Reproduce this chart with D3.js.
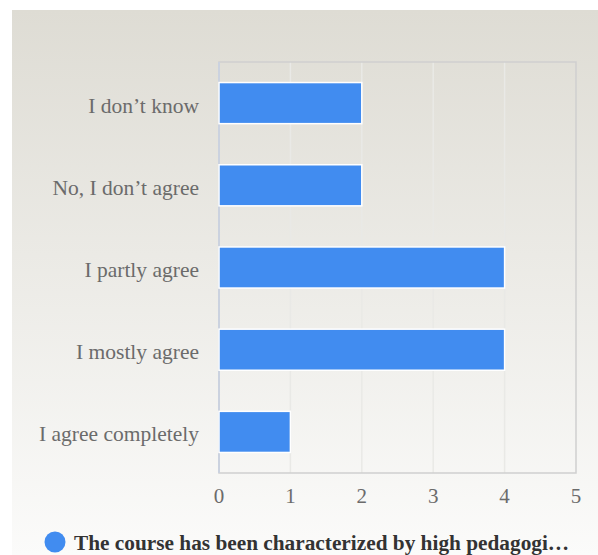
<!DOCTYPE html>
<html>
<head>
<meta charset="utf-8">
<script src="https://cdn.jsdelivr.net/npm/d3@7"></script>
<style>
  body { margin: 0; background: #fff; }
  svg { display: block; }
</style>
</head>
<body>
<svg width="598" height="555"></svg>
<script>
// data
var categories = ["I don\u2019t know", "No, I don\u2019t agree", "I partly agree", "I mostly agree", "I agree completely"];
var counts = [2, 2, 4, 4, 1];
var xTicks = [0, 1, 2, 3, 4, 5];
var seriesName = "The course has been characterized by high pedagogi\u2026";

var svg = d3.select("svg");
var font = "'Liberation Serif', 'Times New Roman', serif";

// background gradient panel
var defs = svg.append("defs");
var grad = defs.append("linearGradient").attr("id", "bg").attr("x1", 0).attr("y1", 0).attr("x2", 0).attr("y2", 1);
grad.append("stop").attr("offset", "0%").attr("stop-color", "#dedcd4");
grad.append("stop").attr("offset", "100%").attr("stop-color", "#fbfbfa");
svg.append("rect").attr("x", 12).attr("y", 10).attr("width", 586).attr("height", 545).attr("fill", "url(#bg)");

var plotL = 219, plotR = 576, plotT = 62, plotB = 473;

var x = d3.scaleLinear().domain([0, 5]).range([plotL, plotR]);
var y = d3.scaleBand().domain(categories).range([plotT, plotB]).paddingInner(0.5).paddingOuter(0.25);

// grid lines
svg.append("g").selectAll("line")
  .data(xTicks.slice(1, -1))
  .enter().append("line")
    .attr("x1", function(d){ return x(d); })
    .attr("x2", function(d){ return x(d); })
    .attr("y1", plotT).attr("y2", plotB)
    .attr("stroke", "#e9e9e6").attr("stroke-width", 1.5);

// plot frame
svg.append("rect")
  .attr("x", plotL).attr("y", plotT).attr("width", plotR - plotL).attr("height", plotB - plotT)
  .attr("fill", "none").attr("stroke", "#cfcfcf").attr("stroke-width", 1.5);
svg.append("line")
  .attr("x1", plotL).attr("x2", plotL).attr("y1", plotT).attr("y2", plotB)
  .attr("stroke", "#cbd2df").attr("stroke-width", 2);

// bars
svg.append("g").selectAll("rect")
  .data(counts)
  .enter().append("rect")
    .attr("x", x(0))
    .attr("y", function(d, i){ return y(categories[i]); })
    .attr("width", function(d){ return x(d) - x(0); })
    .attr("height", y.bandwidth())
    .attr("fill", "#418cf0")
    .attr("stroke", "#ffffff")
    .attr("stroke-width", 1.5);

// category labels
svg.append("g").selectAll("text")
  .data(categories)
  .enter().append("text")
    .attr("x", plotL - 20)
    .attr("y", function(d){ return y(d) + y.bandwidth() / 2 + 9.5; })
    .attr("text-anchor", "end")
    .attr("font-family", font)
    .attr("font-size", "21.5px")
    .attr("fill", "#6b6b6b")
    .text(function(d){ return d; });

// x tick labels
svg.append("g").selectAll("text")
  .data(xTicks)
  .enter().append("text")
    .attr("x", function(d){ return x(d); })
    .attr("y", 503)
    .attr("text-anchor", "middle")
    .attr("font-family", font)
    .attr("font-size", "21px")
    .attr("fill", "#6b6b6b")
    .text(function(d){ return d; });

// legend
svg.append("circle").attr("cx", 55).attr("cy", 542).attr("r", 10.5).attr("fill", "#418cf0");
svg.append("text")
  .attr("x", 74).attr("y", 550)
  .attr("font-family", font)
  .attr("font-size", "21.3px")
  .attr("font-weight", "bold")
  .attr("fill", "#333333")
  .text(seriesName);
</script>
</body>
</html>
